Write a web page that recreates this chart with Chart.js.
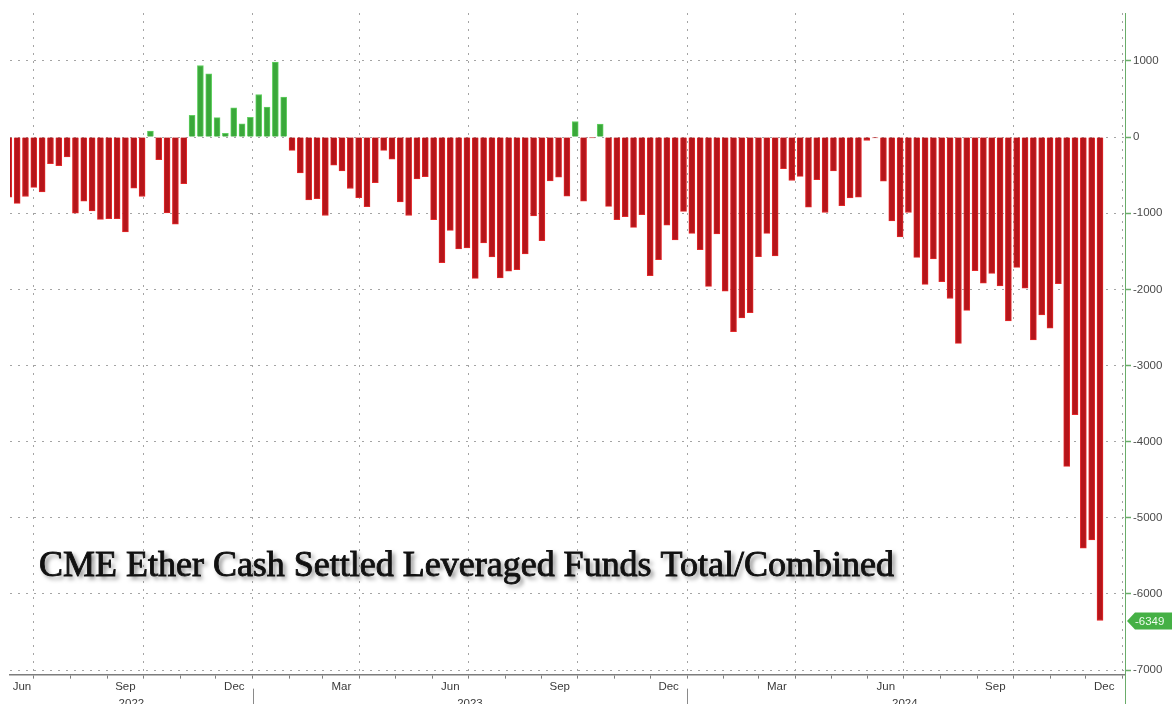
<!DOCTYPE html>
<html>
<head>
<meta charset="utf-8">
<title>CME Ether Cash Settled Leveraged Funds Total/Combined</title>
<script src="https://cdn.jsdelivr.net/npm/chart.js@4.4.1/dist/chart.umd.min.js"></script>
<style>
  html, body { margin: 0; padding: 0; background: #ffffff; overflow: hidden; }
  #wrap { position: relative; width: 1172px; height: 712px; }
  canvas { display: block; }
</style>
</head>
<body>
<div id="wrap"><canvas id="chart" width="1172" height="712"></canvas></div>
<script>
// Weekly net position of leveraged funds, CME cash-settled Ether futures (contracts)
const chartTitle = 'CME Ether Cash Settled Leveraged Funds Total/Combined';
const firstWeek = '2022-06-10';   // report week of the first bar, one bar per week
const axisStart = '2022-06-11';
const axisEnd = '2025-01-03';

const netPositions = [
  -790, -870, -780, -660, -720, -350, -375, -260, -1000, -840,
  -970, -1080, -1070, -1070, -1245, -670, -780, 80, -295, -995,
  -1145, -610, 285, 940, 830, 255, 50, 385, 175, 260,
  560, 395, 985, 525, -175, -470, -825, -810, -1030, -370,
  -445, -675, -795, -915, -600, -175, -290, -850, -1030, -550,
  -520, -1085, -1650, -1225, -1470, -1455, -1855, -1390, -1575, -1850,
  -1760, -1740, -1535, -1035, -1360, -575, -525, -775, 205, -840,
  -10, 170, -910, -1085, -1045, -1185, -1020, -1820, -1610, -1155,
  -1350, -975, -1265, -1480, -1960, -1270, -2025, -2555, -2375, -2305,
  -1570, -1265, -1560, -415, -570, -515, -920, -560, -990, -445,
  -900, -800, -790, -45, -10, -580, -1100, -1310, -990, -1580,
  -1935, -1600, -1900, -2120, -2710, -2275, -1755, -1920, -1790, -1955,
  -2415, -1710, -1985, -2665, -2335, -2510, -1925, -4325, -3645, -5400,
  -5290, -6349
];

const yTicks = [1000, 0, -1000, -2000, -3000, -4000, -5000, -6000, -7000];
const monthNames = ['Jan', 'Feb', 'Mar', 'Apr', 'May', 'Jun', 'Jul', 'Aug', 'Sep', 'Oct', 'Nov', 'Dec'];
const labelledMonths = [2, 5, 8, 11];
const years = [2022, 2023, 2024];

// x positions are counted in days
const DAY = 86400000;
const toDay = s => Date.parse(s + 'T00:00:00Z') / DAY;
const dayOf = (y, m) => Date.UTC(y, m, 1) / DAY;
const xMin = toDay(axisStart);
const xMax = toDay(axisEnd);
const weekX = netPositions.map((_, i) => toDay(firstWeek) + 7 * i);

const RED = '#b5151a', RED_EDGE = '#e4282a';
const GREEN = '#3aa83a', GREEN_EDGE = '#62d062';
const AXIS_GREEN = '#6aac6a';

// month-start ticks (marks + quarterly grid), month names and year names centred on their span
function buildXTicks() {
  const ticks = [];
  for (let y = years[0]; y <= years[years.length - 1] + 1; y++) {
    for (let m = 0; m < 12; m++) {
      const d = dayOf(y, m);
      if (d > xMin && d <= xMax) {
        ticks.push({ value: d, kind: m % 3 === 0 ? 'quarter' : 'month', text: '' });
      }
      if (labelledMonths.includes(m)) {
        const a = Math.max(d, xMin), b = Math.min(dayOf(y, m + 1), xMax);
        if (b > a) ticks.push({ value: (a + b) / 2, kind: 'label', text: monthNames[m] });
      }
    }
  }
  years.forEach(y => {
    const a = Math.max(dayOf(y, 0), xMin), b = Math.min(dayOf(y + 1, 0), xMax);
    ticks.push({ value: (a + b) / 2, kind: 'year', text: ['', String(y)] });
  });
  ticks.sort((p, q) => p.value - q.value);
  return ticks;
}

const overlay = {
  id: 'overlay',
  afterDatasetsDraw(chart) {
    const c = chart.ctx;
    // headline with drop shadow
    c.save();
    c.font = '36px "Liberation Serif"';
    const size = 36 * 855 / c.measureText(chartTitle).width;
    c.font = size.toFixed(2) + 'px "Liberation Serif"';
    c.shadowColor = 'rgba(0,0,0,0.5)';
    c.shadowBlur = 4;
    c.shadowOffsetX = 3;
    c.shadowOffsetY = 3;
    c.fillStyle = '#111111';
    c.strokeStyle = '#111111';
    c.lineWidth = 0.9;
    c.textBaseline = 'alphabetic';
    c.fillText(chartTitle, 39, 576);
    c.shadowColor = 'rgba(0,0,0,0)';
    c.strokeText(chartTitle, 39, 576);
    c.restore();
  },
  afterDraw(chart) {
    const c = chart.ctx;
    const area = chart.chartArea;
    const xs = chart.scales.x, ys = chart.scales.y;
    c.save();
    // value axis line runs down to the foot of the panel
    c.strokeStyle = AXIS_GREEN;
    c.lineWidth = 1;
    c.beginPath();
    c.moveTo(Math.round(area.right) + 0.5, area.bottom);
    c.lineTo(Math.round(area.right) + 0.5, chart.height);
    c.stroke();
    // year separators below the date axis
    c.strokeStyle = '#8a8a8a';
    years.slice(1).forEach(y => {
      const px = Math.round(xs.getPixelForValue(dayOf(y, 0))) + 0.5;
      c.beginPath();
      c.moveTo(px, area.bottom + 14);
      c.lineTo(px, chart.height);
      c.stroke();
    });
    // last value tag
    const last = netPositions[netPositions.length - 1];
    const yy = Math.round(ys.getPixelForValue(last));
    const x0 = area.right + 2, h = 17;
    c.fillStyle = '#45b045';
    c.beginPath();
    c.moveTo(x0, yy);
    c.lineTo(x0 + 8, yy - h / 2);
    c.lineTo(chart.width, yy - h / 2);
    c.lineTo(chart.width, yy + h / 2);
    c.lineTo(x0 + 8, yy + h / 2);
    c.closePath();
    c.fill();
    c.fillStyle = '#eefcee';
    c.font = '11.5px "Liberation Sans"';
    c.textBaseline = 'middle';
    c.textAlign = 'left';
    c.fillText(String(last), x0 + 8, yy + 1);
    c.restore();
  }
};

new Chart(document.getElementById('chart').getContext('2d'), {
  type: 'bar',
  data: {
    datasets: [{
      data: netPositions.map((v, i) => ({ x: weekX[i], y: v })),
      backgroundColor: c => (c.raw && c.raw.y >= 0) ? GREEN : RED,
      borderColor: c => (c.raw && c.raw.y >= 0) ? GREEN_EDGE : RED_EDGE,
      borderWidth: 1,
      barThickness: 6,
      clip: 0
    }]
  },
  options: {
    responsive: false,
    animation: false,
    devicePixelRatio: 1,
    layout: { padding: { left: 10, top: 13, right: 0, bottom: 0 } },
    plugins: { legend: { display: false }, tooltip: { enabled: false } },
    scales: {
      x: {
        type: 'linear',
        offset: false,
        min: xMin,
        max: xMax,
        afterBuildTicks: s => { s.ticks = buildXTicks(); },
        ticks: {
          autoSkip: false,
          maxRotation: 0,
          minRotation: 0,
          padding: 0,
          color: '#3a3a3a',
          font: { family: 'Liberation Sans', size: 11.5, lineHeight: 1.45 },
          callback: (v, i, t) => t[i].text
        },
        grid: {
          offset: false,
          color: c => (c.tick && c.tick.kind === 'quarter') ? '#a4a4a4' : 'rgba(0,0,0,0)',
          tickColor: c => (c.tick && (c.tick.kind === 'quarter' || c.tick.kind === 'month')) ? '#7d7d7d' : 'rgba(0,0,0,0)',
          tickLength: 4,
          lineWidth: 1
        },
        border: { display: true, color: '#7d7d7d', width: 1.5, dash: [2, 6] }
      },
      y: {
        position: 'right',
        min: -7060,
        max: 1630,
        afterBuildTicks: s => { s.ticks = yTicks.map(v => ({ value: v })); },
        afterFit: s => { s.width = 47; },
        ticks: {
          padding: 2,
          color: '#4a4a4a',
          font: { family: 'Liberation Sans', size: 11.5 },
          callback: v => String(v)
        },
        grid: { color: '#a4a4a4', tickColor: AXIS_GREEN, tickLength: 6, tickWidth: 1.5, lineWidth: 1 },
        border: { display: true, color: AXIS_GREEN, width: 1, dash: [2, 6] }
      }
    }
  },
  plugins: [overlay]
});
</script>
</body>
</html>
